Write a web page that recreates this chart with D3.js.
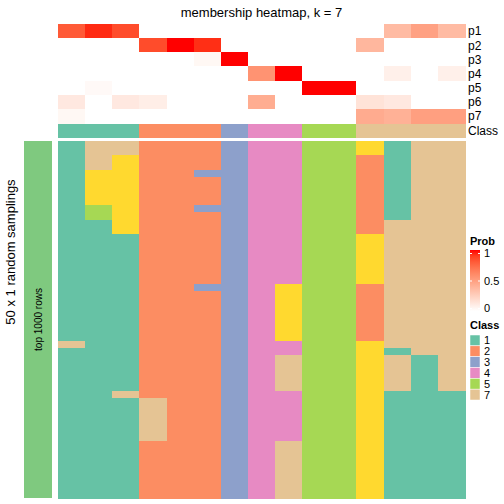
<!DOCTYPE html>
<html><head><meta charset="utf-8">
<script src="https://cdn.jsdelivr.net/npm/d3@7"></script>
<style>body{margin:0;background:#fff}svg{display:block}text{font-family:"Liberation Sans",Arial,sans-serif}rect.cell{shape-rendering:crispEdges}</style>
</head><body>
<script>
// ---------- data ----------
const columns = d3.range(1, 16).map(i => "s" + i);
const probRows = ["p1","p2","p3","p4","p5","p6","p7"];
const p1 = [0.81,0.95,0.86,0,0,0,0,0,0,0,0,0,0.36,0.49,0.36];
const p2 = [0,0,0,0.86,1.0,0.94,0,0,0,0,0,0.38,0,0,0];
const p3 = [0,0,0,0,0,0.04,1.0,0,0,0,0,0,0,0,0];
const p4 = [0,0,0,0,0,0,0,0.56,1.0,0,0,0,0.08,0,0.08];
const p5 = [0,0.03,0,0,0,0,0,0,0,1.0,1.0,0,0,0,0];
const p6 = [0.12,0,0.12,0.09,0,0,0,0.43,0,0,0,0.15,0.12,0,0];
const p7 = [0.04,0,0,0,0,0,0,0,0,0,0,0.44,0.41,0.5,0.5];
const classOfColumn = [1,1,1,2,2,2,3,4,4,5,5,7,7,7,7];
// class of each column in each of the 50 random samplings (rows 0..49, groups of 10)
const samplingClasses = [
  "1111111111 1111111111 1111111171 1111111111 1111111111",
  "7777666665 5111111111 1111111111 1111111111 1111111111",
  "7766666666 6661111111 1111111111 1111171111 1111111111",
  "2222222222 2222222222 2222222222 2222227777 7722222222",
  "2222222222 2222222222 2222222222 2222222222 2222222222",
  "2222322223 2222222222 3222222222 2222222222 2222222222",
  "3333333333 3333333333 3333333333 3333333333 3333333333",
  "4444444444 4444444444 4444444444 4444444444 4444444444",
  "4444444444 4444444444 6666666644 7777744444 4477777777",
  "5555555555 5555555555 5555555555 5555555555 5555555555",
  "5555555555 5555555555 5555555555 5555555555 5555555555",
  "6622222222 2226666666 2222222266 6666666666 6666666666",
  "1111111111 1777777777 7777777771 7777711111 1111111111",
  "7777777777 7777777777 7777777777 1111111111 1111111111",
  "7777777777 7777777777 7777777777 7777711111 1111111111"
];
const legendClasses = ["1","2","3","4","5","7"];
const probTicks = [0, 0.5, 1];
const classColors = {"1":"#66C2A5","2":"#FC8D62","3":"#8DA0CB","4":"#E78AC3","5":"#A6D854","6":"#FFD92F","7":"#E5C494"};
const titleText = "membership heatmap, k = 7";
const rowTitle = "50 x 1 random samplings";
const sliceTitle = "top 1000 rows";

// ---------- layout ----------
const W = 504, H = 504;
const svg = d3.select("body").append("svg").attr("width", W).attr("height", H);
const probData = [p1,p2,p3,p4,p5,p6,p7];
const nSamp = samplingClasses[0].replace(/ /g, "").length;
const grid = samplingClasses.map(s => s.replace(/ /g, "").split(""));

const x = d3.scaleBand().domain(columns).range([58, 465]);
const yTop = d3.scaleBand().domain(probRows).range([24, 123]);
const yMain = d3.scaleBand().domain(d3.range(nSamp)).range([141, 498]);
const probColor = d3.scaleLinear().domain([0, 1]).range(["#FFFFFF", "#FF0000"]).interpolate(d3.interpolateLab);

// title
svg.append("text").attr("x", 261.5).attr("y", 17).attr("text-anchor", "middle")
  .attr("font-size", 13).text(titleText);

// probability rows
probRows.forEach((r, ri) => {
  svg.append("g").selectAll("rect").data(probData[ri]).join("rect").attr("class", "cell")
    .attr("x", (d, i) => x(columns[i])).attr("y", yTop(r))
    .attr("width", x.bandwidth() + 0.5).attr("height", yTop.bandwidth() + 0.5)
    .attr("fill", d => probColor(d));
  svg.append("text").attr("x", 468).attr("y", yTop(r) + yTop.bandwidth() / 2)
    .attr("dy", "0.36em").attr("font-size", 12).text(r);
});

// Class annotation
svg.append("g").selectAll("rect").data(classOfColumn).join("rect").attr("class", "cell")
  .attr("x", (d, i) => x(columns[i])).attr("y", 124)
  .attr("width", x.bandwidth() + 0.5).attr("height", 13.7)
  .attr("fill", d => classColors[d]);
svg.append("text").attr("x", 468).attr("y", 131).attr("dy", "0.36em")
  .attr("font-size", 12).text("Class");

// main heatmap
const gMain = svg.append("g");
grid.forEach((col, ci) => {
  gMain.append("g").selectAll("rect").data(col).join("rect").attr("class", "cell")
    .attr("x", x(columns[ci])).attr("y", (d, ri) => yMain(ri))
    .attr("width", x.bandwidth() + 0.5).attr("height", yMain.bandwidth() + 0.5)
    .attr("fill", d => classColors[d]);
});

// left annotation bar
svg.append("rect").attr("class", "cell").attr("x", 24).attr("y", 141).attr("width", 28).attr("height", 357)
  .attr("fill", "#7FC97F");
svg.append("text").attr("transform", "translate(41.5,319.5) rotate(-90)")
  .attr("text-anchor", "middle").attr("font-size", 10).text(sliceTitle);
svg.append("text").attr("transform", "translate(14.5,252) rotate(-90)")
  .attr("text-anchor", "middle").attr("font-size", 13).text(rowTitle);

// Prob legend
const lg = svg.append("g");
lg.append("text").attr("x", 470).attr("y", 245).attr("font-size", 11).attr("font-weight", "bold").text("Prob");
const defs = svg.append("defs");
const grad = defs.append("linearGradient").attr("id", "pg").attr("x1", 0).attr("x2", 0).attr("y1", 1).attr("y2", 0);
d3.range(0, 1.0001, 0.1).forEach(t => grad.append("stop").attr("offset", t).attr("stop-color", probColor(t)));
const yLeg = d3.scaleLinear().domain([0, 1]).range([308.5, 253.5]);
lg.append("rect").attr("x", 470).attr("y", 250).attr("width", 10).attr("height", 61).attr("fill", "url(#pg)");
probTicks.forEach(t => {
  lg.append("line").attr("x1", 470).attr("x2", 472).attr("y1", yLeg(t)).attr("y2", yLeg(t)).attr("stroke", "#fff").attr("stroke-width", 1);
  lg.append("line").attr("x1", 478).attr("x2", 480).attr("y1", yLeg(t)).attr("y2", yLeg(t)).attr("stroke", "#fff").attr("stroke-width", 1);
  lg.append("text").attr("x", 484).attr("y", yLeg(t)).attr("dy", "0.36em").attr("font-size", 11).text(t === 0.5 ? "0.5" : String(t));
});

// Class legend
lg.append("text").attr("x", 470).attr("y", 329).attr("font-size", 11).attr("font-weight", "bold").text("Class");
const yCls = d3.scaleBand().domain(legendClasses).range([335, 400]);
lg.selectAll("rect.cls").data(legendClasses).join("rect").attr("class", "cls")
  .attr("x", 470).attr("y", d => yCls(d)).attr("width", 10).attr("height", yCls.bandwidth())
  .attr("fill", d => classColors[d]).attr("stroke", "#fff").attr("stroke-width", 0.5);
lg.selectAll("text.cls").data(legendClasses).join("text").attr("class", "cls")
  .attr("x", 484).attr("y", d => yCls(d) + yCls.bandwidth() / 2).attr("dy", "0.36em")
  .attr("font-size", 11).text(d => d);
</script>
</body></html>
